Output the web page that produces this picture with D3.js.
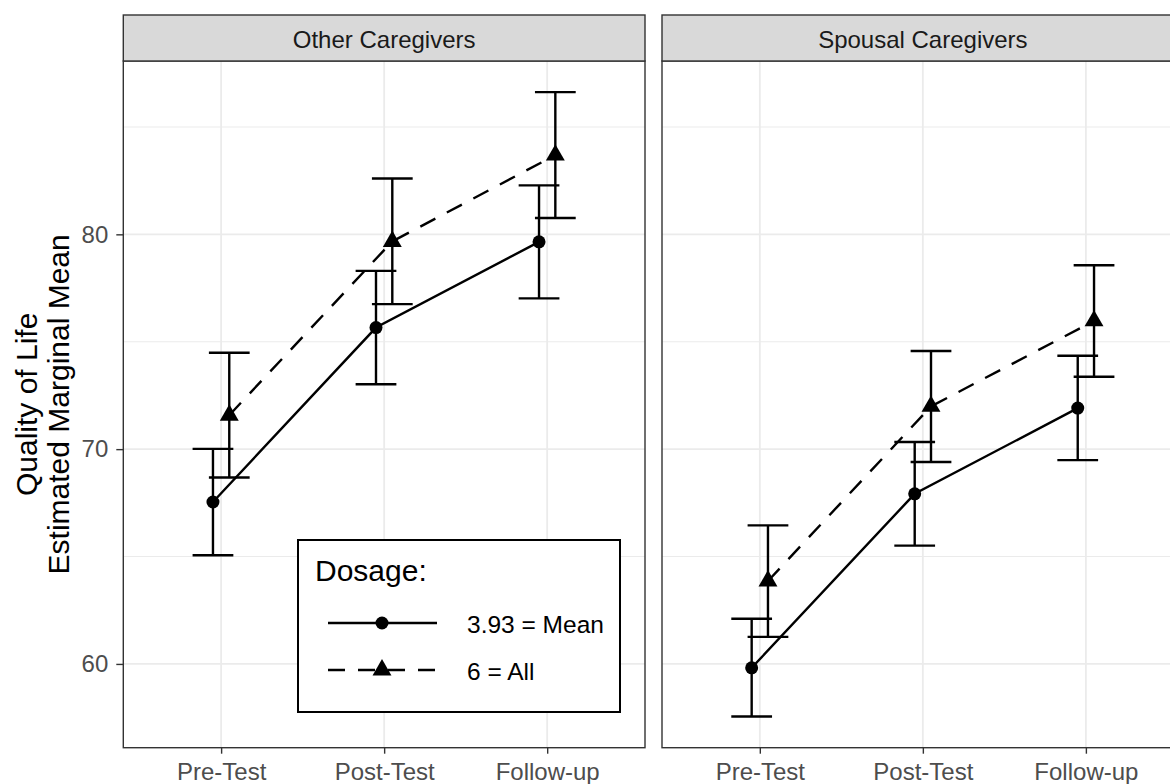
<!DOCTYPE html>
<html>
<head>
<meta charset="utf-8">
<script src="https://cdn.jsdelivr.net/npm/d3@7"></script>
<style>
  html, body { margin: 0; padding: 0; background: #fff; }
  svg { display: block; font-family: "Liberation Sans", Arial, sans-serif; }
</style>
</head>
<body>
<svg id="chart" width="1170" height="784"></svg>
<script>
// Time points on the x axis and the two caregiver groups (facets)
const timepoints = ["Pre-Test", "Post-Test", "Follow-up"];
const panels = ["Other Caregivers", "Spousal Caregivers"];
const dosageLabels = ["3.93 = Mean", "6 = All"];
const yTicks = [60, 70, 80];
const yMinorTicks = [65, 75, 85];

// Estimated marginal means with confidence limits
const otherMean   = [67.54, 75.66, 79.65];
const otherMeanLo = [65.06, 73.02, 77.02];
const otherMeanHi = [70.01, 78.30, 82.28];
const otherAll    = [71.58, 79.67, 83.69];
const otherAllLo  = [68.68, 76.75, 80.76];
const otherAllHi  = [74.49, 82.60, 86.62];

const spousalMean   = [59.82, 67.92, 71.91];
const spousalMeanLo = [57.55, 65.51, 69.49];
const spousalMeanHi = [62.10, 70.33, 74.35];
const spousalAll    = [63.86, 71.99, 75.97];
const spousalAllLo  = [61.26, 69.40, 73.37];
const spousalAllHi  = [66.45, 74.57, 78.56];

const panelData = [
  [
    { est: otherMean, lo: otherMeanLo, hi: otherMeanHi },
    { est: otherAll,  lo: otherAllLo,  hi: otherAllHi }
  ],
  [
    { est: spousalMean, lo: spousalMeanLo, hi: spousalMeanHi },
    { est: spousalAll,  lo: spousalAllLo,  hi: spousalAllHi }
  ]
];

const svg = d3.select("#chart");

const panelTop = 61, panelBottom = 747.7, stripTop = 15;
const panelW = 521.7;
const panelLefts = [123.3, 662];
const ink = "#000";
const lw = 2.4;
const dashes = "17,13";
const dodge = [-0.05, 0.05];
const textSize = 24;

const y = d3.scaleLinear().domain([56.1, 88.07]).range([panelBottom, panelTop]);

const triangle = d3.symbol().type(d3.symbolTriangle).size(155);

panels.forEach((name, p) => {
  const left = panelLefts[p];
  const x = d3.scalePoint().domain(timepoints).range([left, left + panelW]).padding(0.6);
  const step = x.step();
  const g = svg.append("g");

  // panel background and grid
  g.append("rect").attr("x", left).attr("y", panelTop)
    .attr("width", panelW).attr("height", panelBottom - panelTop).attr("fill", "#fff");
  g.selectAll(".minor").data(yMinorTicks).join("line")
    .attr("x1", left).attr("x2", left + panelW)
    .attr("y1", d => y(d)).attr("y2", d => y(d))
    .attr("stroke", "#EBEBEB").attr("stroke-width", 1.1);
  g.selectAll(".major").data(yTicks).join("line")
    .attr("x1", left).attr("x2", left + panelW)
    .attr("y1", d => y(d)).attr("y2", d => y(d))
    .attr("stroke", "#EBEBEB").attr("stroke-width", 1.8);
  g.selectAll(".vmajor").data(timepoints).join("line")
    .attr("x1", d => x(d)).attr("x2", d => x(d))
    .attr("y1", panelTop).attr("y2", panelBottom)
    .attr("stroke", "#EBEBEB").attr("stroke-width", 1.8);

  const series = panelData[p];
  const px = (s, i) => x(timepoints[i]) + dodge[s] * step;

  // connecting lines
  series.forEach((ser, s) => {
    const line = d3.line().x((d, i) => px(s, i)).y(d => y(d));
    g.append("path").datum(ser.est).attr("d", line)
      .attr("fill", "none").attr("stroke", ink).attr("stroke-width", lw)
      .attr("stroke-dasharray", s === 1 ? dashes : null);
  });

  // error bars
  series.forEach((ser, s) => {
    const half = 0.125 * step;
    ser.est.forEach((v, i) => {
      const cx = px(s, i);
      const eb = g.append("g").attr("stroke", ink).attr("stroke-width", lw).attr("fill", "none");
      eb.append("line").attr("x1", cx).attr("x2", cx).attr("y1", y(ser.lo[i])).attr("y2", y(ser.hi[i]));
      eb.append("line").attr("x1", cx - half).attr("x2", cx + half).attr("y1", y(ser.lo[i])).attr("y2", y(ser.lo[i]));
      eb.append("line").attr("x1", cx - half).attr("x2", cx + half).attr("y1", y(ser.hi[i])).attr("y2", y(ser.hi[i]));
    });
  });

  // points
  series[0].est.forEach((v, i) => {
    g.append("circle").attr("cx", px(0, i)).attr("cy", y(v)).attr("r", 6.5).attr("fill", ink);
  });
  series[1].est.forEach((v, i) => {
    g.append("path").attr("d", triangle)
      .attr("transform", `translate(${px(1, i)},${y(v)})`).attr("fill", ink);
  });

  // panel border
  g.append("rect").attr("x", left).attr("y", panelTop)
    .attr("width", panelW).attr("height", panelBottom - panelTop)
    .attr("fill", "none").attr("stroke", "#333").attr("stroke-width", 1.4);

  // facet strip
  g.append("rect").attr("x", left).attr("y", stripTop)
    .attr("width", panelW).attr("height", panelTop - stripTop)
    .attr("fill", "#D9D9D9").attr("stroke", "#333").attr("stroke-width", 1.4);
  g.append("text").attr("x", left + panelW / 2).attr("y", (stripTop + panelTop) / 2 + 1)
    .attr("text-anchor", "middle").attr("dominant-baseline", "central")
    .attr("font-size", textSize).attr("fill", "#1A1A1A").text(name);

  // x axis
  const xa = svg.append("g").attr("transform", `translate(0,${panelBottom})`)
    .call(d3.axisBottom(x).tickSize(6).tickPadding(9));
  xa.select(".domain").remove();
  xa.selectAll(".tick line").attr("stroke", "#333").attr("stroke-width", 1.4);
  xa.selectAll(".tick text").attr("font-size", textSize).attr("fill", "#4D4D4D")
    .attr("font-family", "Liberation Sans, Arial, sans-serif");
});

// y axis on the left panel
const ya = svg.append("g").attr("transform", `translate(${panelLefts[0]},0)`)
  .call(d3.axisLeft(y).tickValues(yTicks).tickSize(7).tickPadding(8));
ya.select(".domain").remove();
ya.selectAll(".tick line").attr("stroke", "#333").attr("stroke-width", 1.4);
ya.selectAll(".tick text").attr("font-size", textSize).attr("fill", "#4D4D4D")
  .attr("font-family", "Liberation Sans, Arial, sans-serif");

// y axis title (two lines)
const yMid = (panelTop + panelBottom) / 2;
const yTitle = svg.append("text")
  .attr("transform", `translate(26,${yMid}) rotate(-90)`)
  .attr("text-anchor", "middle").attr("font-size", 30).attr("fill", "#000");
yTitle.append("tspan").attr("x", 0).attr("dy", "0.35em").text("Quality of Life");
yTitle.append("tspan").attr("x", 0).attr("dy", 32).text("Estimated Marginal Mean");

// legend
const lg = svg.append("g");
lg.append("rect").attr("x", 298).attr("y", 540).attr("width", 322).attr("height", 172)
  .attr("fill", "#fff").attr("stroke", "#000").attr("stroke-width", 2);
lg.append("text").attr("x", 315).attr("y", 581).attr("font-size", 30).attr("fill", "#000").text("Dosage:");
const keyY = [623, 670];
dosageLabels.forEach((lab, s) => {
  lg.append("line").attr("x1", 328).attr("x2", 437).attr("y1", keyY[s]).attr("y2", keyY[s])
    .attr("stroke", ink).attr("stroke-width", lw)
    .attr("stroke-dasharray", s === 1 ? dashes : null);
  if (s === 0) {
    lg.append("circle").attr("cx", 382).attr("cy", keyY[s]).attr("r", 6.5).attr("fill", ink);
  } else {
    lg.append("path").attr("d", triangle).attr("transform", `translate(382,${keyY[s]})`).attr("fill", ink);
  }
  lg.append("text").attr("x", 467).attr("y", keyY[s] + 1).attr("dominant-baseline", "central")
    .attr("font-size", 24.5).attr("fill", "#000").text(lab);
});
</script>
</body>
</html>
